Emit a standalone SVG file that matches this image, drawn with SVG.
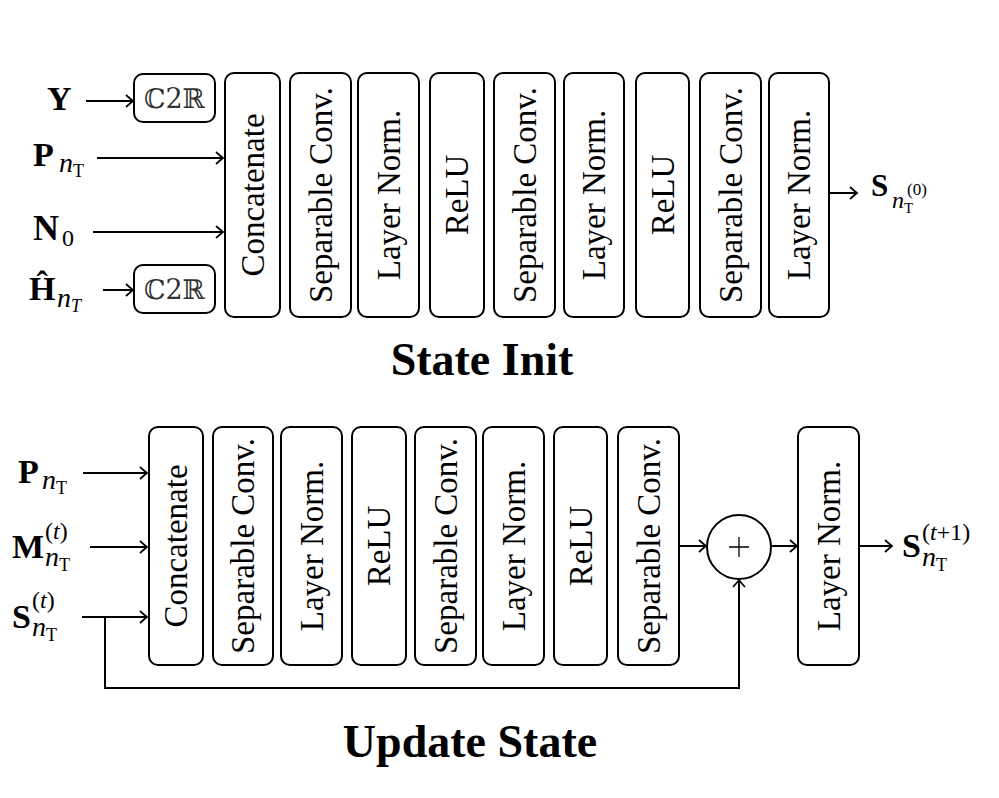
<svg xmlns="http://www.w3.org/2000/svg" width="999" height="798" viewBox="0 0 999 798">
<style>
.box{fill:#fff;stroke:#000;stroke-width:2}
.lbl{font-family:"Liberation Serif","Times New Roman",serif;font-size:33px;fill:#000}
.c2r{font-family:"DejaVu Serif",serif;font-size:27px;fill:#333}
.mb{font-family:"Liberation Serif",serif;font-weight:bold;font-size:34px}
.mi{font-family:"Liberation Serif",serif;font-style:italic;font-size:28px}
.mr{font-family:"Liberation Serif",serif;font-size:24px}
.ms{font-family:"Liberation Serif",serif;font-size:18px}
.title{font-family:"Liberation Serif",serif;font-weight:bold;font-size:46px;text-anchor:middle}
.ln{fill:none;stroke:#000;stroke-width:2}
</style>
<defs>
<marker id="ah" viewBox="-9 -7 11 14" refX="0" refY="0" markerWidth="11" markerHeight="14" markerUnits="userSpaceOnUse" orient="auto">
<path d="M-7,-6 Q-2,-1.5 0,0 Q-2,1.5 -7,6" fill="none" stroke="#000" stroke-width="1.7"/>
</marker>
</defs>

<!-- ===== State Init ===== -->
<g id="c2r-y"><rect class="box" x="134" y="74" width="81" height="48" rx="9"/><text class="c2r" x="174.5" y="108" text-anchor="middle">ℂ2ℝ</text></g>
<g id="c2r-h"><rect class="box" x="134" y="265" width="81" height="48" rx="9"/><text class="c2r" x="174.5" y="299" text-anchor="middle">ℂ2ℝ</text></g>

<g id="t-concat"><rect class="box" x="225" y="73" width="55" height="244" rx="9"/><text class="lbl" transform="translate(252.5,195) rotate(-90)" text-anchor="middle" dominant-baseline="central">Concatenate</text></g>
<g id="t-sep1"><rect class="box" x="290" y="73" width="61" height="244" rx="9"/><text class="lbl" transform="translate(320.5,195) rotate(-90)" text-anchor="middle" dominant-baseline="central">Separable Conv.</text></g>
<g id="t-ln1"><rect class="box" x="358" y="73" width="61" height="244" rx="9"/><text class="lbl" transform="translate(388.5,195) rotate(-90)" text-anchor="middle" dominant-baseline="central">Layer Norm.</text></g>
<g id="t-relu1"><rect class="box" x="430" y="73" width="54" height="244" rx="9"/><text class="lbl" transform="translate(457,195) rotate(-90)" text-anchor="middle" dominant-baseline="central">ReLU</text></g>
<g id="t-sep2"><rect class="box" x="494" y="73" width="61" height="244" rx="9"/><text class="lbl" transform="translate(524.5,195) rotate(-90)" text-anchor="middle" dominant-baseline="central">Separable Conv.</text></g>
<g id="t-ln2"><rect class="box" x="564" y="73" width="60" height="244" rx="9"/><text class="lbl" transform="translate(594,195) rotate(-90)" text-anchor="middle" dominant-baseline="central">Layer Norm.</text></g>
<g id="t-relu2"><rect class="box" x="636" y="73" width="53" height="244" rx="9"/><text class="lbl" transform="translate(662.5,195) rotate(-90)" text-anchor="middle" dominant-baseline="central">ReLU</text></g>
<g id="t-sep3"><rect class="box" x="700" y="73" width="61" height="244" rx="9"/><text class="lbl" transform="translate(730.5,195) rotate(-90)" text-anchor="middle" dominant-baseline="central">Separable Conv.</text></g>
<g id="t-ln3"><rect class="box" x="769" y="73" width="60" height="244" rx="9"/><text class="lbl" transform="translate(799,195) rotate(-90)" text-anchor="middle" dominant-baseline="central">Layer Norm.</text></g>

<!-- ===== Update State ===== -->
<g id="u-concat"><rect class="box" x="149" y="427" width="54" height="238" rx="9"/><text class="lbl" transform="translate(176,546) rotate(-90)" text-anchor="middle" dominant-baseline="central">Concatenate</text></g>
<g id="u-sep1"><rect class="box" x="213" y="427" width="60" height="238" rx="9"/><text class="lbl" transform="translate(243,546) rotate(-90)" text-anchor="middle" dominant-baseline="central">Separable Conv.</text></g>
<g id="u-ln1"><rect class="box" x="281" y="427" width="61" height="238" rx="9"/><text class="lbl" transform="translate(311.5,546) rotate(-90)" text-anchor="middle" dominant-baseline="central">Layer Norm.</text></g>
<g id="u-relu1"><rect class="box" x="352" y="427" width="54" height="238" rx="9"/><text class="lbl" transform="translate(379,546) rotate(-90)" text-anchor="middle" dominant-baseline="central">ReLU</text></g>
<g id="u-sep2"><rect class="box" x="415" y="427" width="61" height="238" rx="9"/><text class="lbl" transform="translate(445.5,546) rotate(-90)" text-anchor="middle" dominant-baseline="central">Separable Conv.</text></g>
<g id="u-ln2"><rect class="box" x="483" y="427" width="61" height="238" rx="9"/><text class="lbl" transform="translate(513.5,546) rotate(-90)" text-anchor="middle" dominant-baseline="central">Layer Norm.</text></g>
<g id="u-relu2"><rect class="box" x="554" y="427" width="53" height="238" rx="9"/><text class="lbl" transform="translate(580.5,546) rotate(-90)" text-anchor="middle" dominant-baseline="central">ReLU</text></g>
<g id="u-sep3"><rect class="box" x="618" y="427" width="61" height="238" rx="9"/><text class="lbl" transform="translate(648.5,546) rotate(-90)" text-anchor="middle" dominant-baseline="central">Separable Conv.</text></g>
<g id="u-plus"><circle cx="739" cy="547" r="32" fill="#fff" stroke="#000" stroke-width="2"/><path d="M729,547 H749 M739,537 V557" stroke="#000" stroke-width="1.3"/></g>
<g id="u-ln3"><rect class="box" x="798" y="427" width="61" height="238" rx="9"/><text class="lbl" transform="translate(828.5,546) rotate(-90)" text-anchor="middle" dominant-baseline="central">Layer Norm.</text></g>

<!-- connectors -->
<g id="connectors" class="ln">
<path class="ln" d="M86,101 H133" marker-end="url(#ah)"/>
<path class="ln" d="M97,158 H223" marker-end="url(#ah)"/>
<path class="ln" d="M93,232 H223" marker-end="url(#ah)"/>
<path class="ln" d="M103,290 H133" marker-end="url(#ah)"/>
<path class="ln" d="M829,193 H857" marker-end="url(#ah)"/>
<path class="ln" d="M83,473 H147" marker-end="url(#ah)"/>
<path class="ln" d="M90,547 H147" marker-end="url(#ah)"/>
<path class="ln" d="M82,617 H147" marker-end="url(#ah)"/>
<path class="ln" d="M105,617 V688 H739 V580" marker-end="url(#ah)"/>
<path class="ln" d="M679,546 H706" marker-end="url(#ah)"/>
<path class="ln" d="M771,546 H797" marker-end="url(#ah)"/>
<path class="ln" d="M859,546 H892" marker-end="url(#ah)"/>
</g>

<!-- input / output labels -->
<g id="lbl-Y"><text class="mb" x="47" y="110">Y</text></g>
<g id="lbl-P-top"><text class="mb" x="33" y="166">P</text><text class="mi" x="59" y="172">n</text><text class="ms" x="73" y="177">T</text></g>
<g id="lbl-N0"><text class="mb" x="33" y="240" style="font-size:36px">N</text><text class="mr" x="62" y="246">0</text></g>
<g id="lbl-H"><text class="mb" x="29" y="300">Ĥ</text><text class="mi" x="57" y="307">n</text><text class="mi" x="71" y="312" style="font-size:18px">T</text></g>
<g id="lbl-S0"><text class="mb" x="871" y="196" style="font-size:31px">S</text><text class="mi" x="892" y="208" style="font-size:24px">n</text><text class="ms" x="904" y="213" style="font-size:15px">T</text><text class="mr" x="907" y="195" style="font-size:17px">(0)</text></g>

<g id="lbl-P-bot"><text class="mb" x="18" y="483">P</text><text class="mi" x="42" y="489">n</text><text class="ms" x="56" y="494">T</text></g>
<g id="lbl-M"><text class="mb" x="12" y="558">M</text><text class="mr" x="45" y="539">(<tspan class="mi" style="font-size:24px">t</tspan>)</text><text class="mi" x="45" y="566">n</text><text class="ms" x="59" y="571">T</text></g>
<g id="lbl-St"><text class="mb" x="12" y="628">S</text><text class="mr" x="32" y="608">(<tspan class="mi" style="font-size:24px">t</tspan>)</text><text class="mi" x="32" y="636">n</text><text class="ms" x="46" y="641">T</text></g>
<g id="lbl-St1"><text class="mb" x="902" y="557">S</text><text class="mr" x="922" y="540">(<tspan class="mi" style="font-size:24px">t</tspan>+1)</text><text class="mi" x="922" y="566">n</text><text class="ms" x="936" y="571">T</text></g>

<text class="title" x="482" y="375">State Init</text>
<text class="title" x="470" y="757">Update State</text>
</svg>
